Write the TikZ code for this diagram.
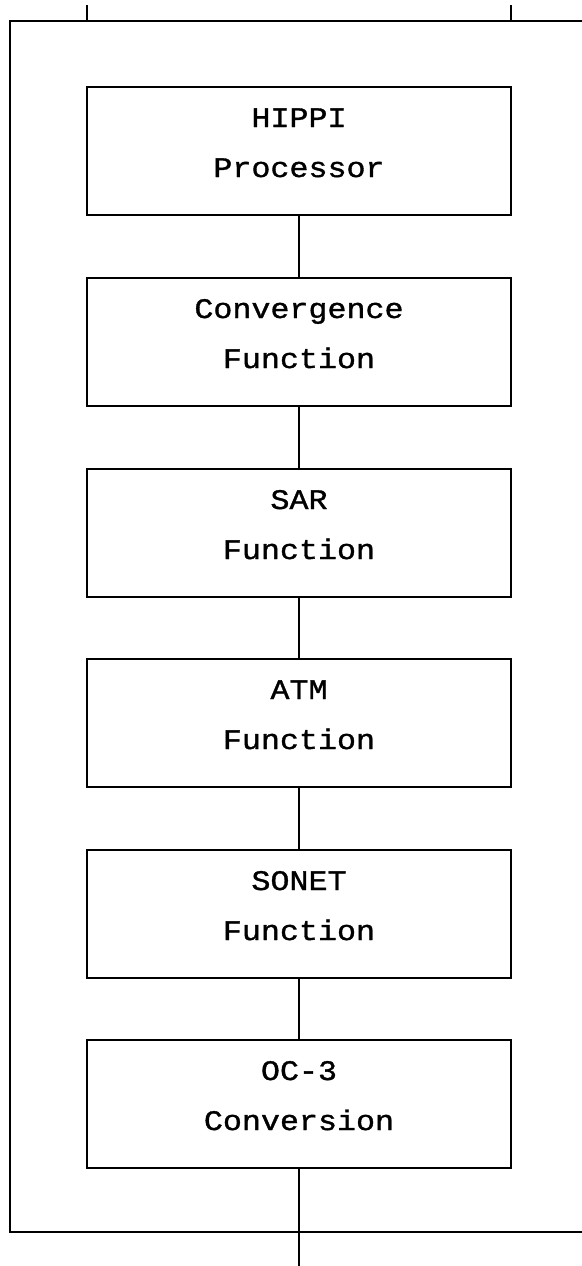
\documentclass[tikz,border=0pt]{standalone}
\usepackage{fontspec}
\newfontfamily\boxfont[FakeStretch=1.12,FakeBold=1.2]{Liberation Mono}
\tikzset{
  stagebox/.style={draw, line width=2pt, minimum width=424pt, minimum height=128pt, inner sep=0pt, anchor=north},
  stagetext/.style={font=\boxfont\fontsize{28.3}{30}\selectfont, anchor=base, inner sep=0pt},
  link/.style={line width=2pt},
  frame/.style={line width=2.2pt, line cap=rect}
}
\newcommand\mystage[4]{%
  \node[stagebox] (#1) at (299,#2) {};
  \node[stagetext] (#1-a) at ([yshift=-41pt]#1.north) {#3};
  \node[stagetext] (#1-b) at ([yshift=-91pt]#1.north) {#4};
}
\begin{document}
\begin{tikzpicture}[x=1pt,y=-1pt]
\useasboundingbox (0,0) rectangle (581,1266);
\mystage{hippi}{86}{HIPPI}{Processor}
\mystage{conv}{277}{Convergence}{Function}
\mystage{sar}{468}{SAR}{Function}
\mystage{atm}{658}{ATM}{Function}
\mystage{sonet}{849}{SONET}{Function}
\mystage{oc}{1039}{OC-3}{Conversion}
\draw[link] (hippi) -- (conv);
\draw[link] (conv) -- (sar);
\draw[link] (sar) -- (atm);
\draw[link] (atm) -- (sonet);
\draw[link] (sonet) -- (oc);
\coordinate (out) at (299,1266);
\draw[link] (oc.south) -- (out);
\coordinate (ftr) at (581,21);
\coordinate (fbr) at (581,1232);
\draw[frame] (ftr) -| (10,1232) -- (fbr);
\coordinate (t1) at (87,5);
\coordinate (t2) at (511,5);
\draw[link] (t1) -- (87,21);
\draw[link] (t2) -- (511,21);
\end{tikzpicture}
\end{document}
